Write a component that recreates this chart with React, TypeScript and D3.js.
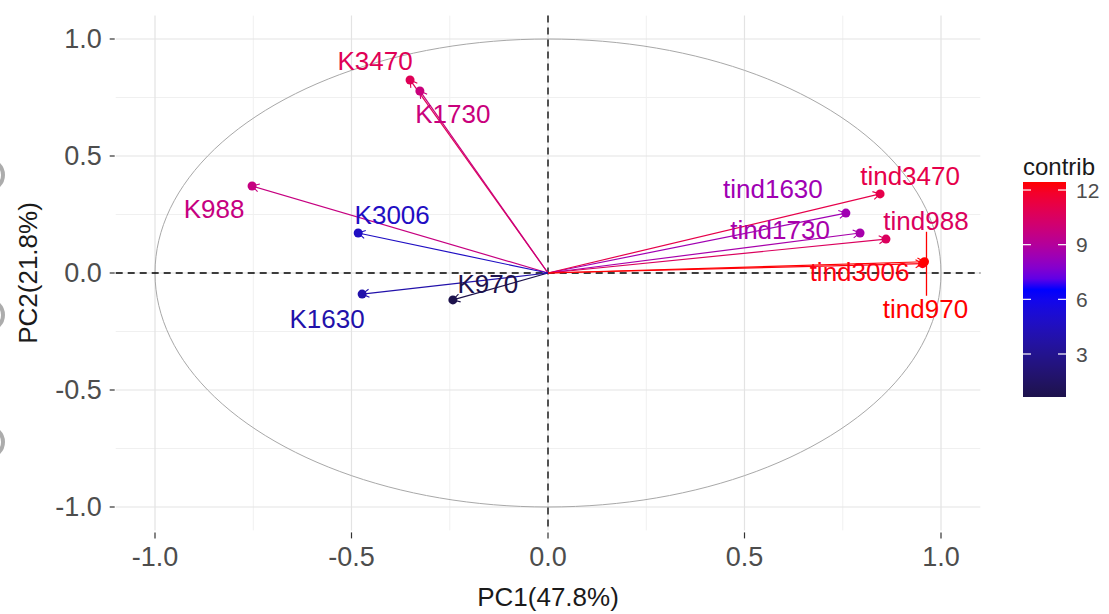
import React from "react";
import * as d3 from "d3";

const variables = ["K3470", "K1730", "K988", "K3006", "K970", "K1630", "tind1630", "tind3470", "tind1730", "tind988", "tind3006", "tind970"];
const pc1 = [-0.351, -0.326, -0.753, -0.483, -0.242, -0.473, 0.758, 0.845, 0.794, 0.86, 0.953, 0.958];
const pc2 = [0.825, 0.778, 0.372, 0.171, -0.115, -0.09, 0.256, 0.338, 0.171, 0.145, 0.04, 0.048];
const contrib = [10.8, 9.8, 9.7, 4.7, 0.64, 3.9, 8.4, 11.1, 8.6, 10.6, 12.3, 12.44];
// label offsets in pixels (repelled positions)
const labelDx = [-35, 33, -38, 34, 35, -35, -73, 30, -80, 40, -63, 1];
const labelDy = [-19, 23, 23, -18, -16, 25, -24, -18, -3, -18, 8, 47];

const xTicks = [-1.0, -0.5, 0.0, 0.5, 1.0];
const yTicks = [-1.0, -0.5, 0.0, 0.5, 1.0];
const minorTicks = [-0.75, -0.25, 0.25, 0.75];
const legendTicks = [3, 6, 9, 12];
const contribRange = [0.64, 12.44];

const W = 1109, H = 614;
const FONT = "'Liberation Sans', Arial, Helvetica, sans-serif";

export default function App() {
  const x = d3.scaleLinear().domain([-1.1, 1.1]).range([115.7, 980.3]);
  const y = d3.scaleLinear().domain([-1.1, 1.1]).range([530.4, 15.6]);
  const mid = (contribRange[0] + contribRange[1]) / 2;
  const color = d3
    .scaleLinear<string>()
    .domain([contribRange[0], mid, contribRange[1]])
    .range(["#1d124c", "#0000ff", "#ff0000"])
    .interpolate(d3.interpolateLab);

  const legTop = 182, legBot = 397, legX = 1023, legW = 43;
  const ly = d3.scaleLinear().domain(contribRange).range([legBot, legTop]);
  const stops = d3.range(0, 1.0001, 0.05);

  const circle = d3.range(0, 361, 2).map((a) => [Math.cos((a * Math.PI) / 180), Math.sin((a * Math.PI) / 180)]);
  const circlePath = d3.line().x((d) => x(d[0])).y((d) => y(d[1]))(circle as any);

  const arrowLen = 8;
  const [x0, x1] = x.range();
  const [yb, yt] = y.range();

  return (
    <svg width={W} height={H} style={{ position: "absolute", left: 0, top: 0, background: "#fff" }} fontFamily={FONT}>
      <defs>
        <linearGradient id="cg" x1="0" y1="1" x2="0" y2="0">
          {stops.map((s, i) => (
            <stop key={i} offset={s} stopColor={color(contribRange[0] + s * (contribRange[1] - contribRange[0]))} />
          ))}
        </linearGradient>
      </defs>
      {/* side artifacts */}
      {[175, 315, 442].map((cy, i) => (
        <circle key={i} cx={-12} cy={cy} r={15} fill="none" stroke="#909090" strokeWidth={4} opacity={0.75} />
      ))}
      {/* grid */}
      {minorTicks.map((t) => (
        <g key={"m" + t}>
          <line x1={x(t)} x2={x(t)} y1={yt} y2={yb} stroke="#f0f0f0" strokeWidth={1} />
          <line x1={x0} x2={x1} y1={y(t)} y2={y(t)} stroke="#f0f0f0" strokeWidth={1} />
        </g>
      ))}
      {xTicks.map((t) => (
        <line key={"gx" + t} x1={x(t)} x2={x(t)} y1={yt} y2={yb} stroke="#e3e3e3" strokeWidth={1.2} />
      ))}
      {yTicks.map((t) => (
        <line key={"gy" + t} x1={x0} x2={x1} y1={y(t)} y2={y(t)} stroke="#e3e3e3" strokeWidth={1.2} />
      ))}
      {/* circle */}
      <path d={circlePath || ""} fill="none" stroke="#a8a8a8" strokeWidth={1} />
      {/* dashed axes */}
      <line x1={x0} x2={x1} y1={y(0)} y2={y(0)} stroke="#000" strokeWidth={1.3} strokeDasharray="7,5" />
      <line x1={x(0)} x2={x(0)} y1={yt} y2={yb} stroke="#000" strokeWidth={1.3} strokeDasharray="7,5" />
      {/* arrows */}
      {variables.map((v, i) => {
        const px = x(pc1[i]), py = y(pc2[i]);
        const ox = x(0), oy = y(0);
        const ang = Math.atan2(py - oy, px - ox);
        const a1 = ang + Math.PI - Math.PI / 6, a2 = ang + Math.PI + Math.PI / 6;
        const c = color(contrib[i]);
        return (
          <g key={v}>
            <line x1={ox} y1={oy} x2={px} y2={py} stroke={c} strokeWidth={1.2} />
            <polyline
              points={`${px + arrowLen * Math.cos(a1)},${py + arrowLen * Math.sin(a1)} ${px},${py} ${px + arrowLen * Math.cos(a2)},${py + arrowLen * Math.sin(a2)}`}
              fill="none"
              stroke={c}
              strokeWidth={1.1}
            />
            <circle cx={px} cy={py} r={4.5} fill={c} />
          </g>
        );
      })}
      {/* repel segment for tind970 */}
      {(() => {
        const i = variables.indexOf("tind970");
        const px = x(pc1[i]), py = y(pc2[i]);
        return <line x1={px + 2} y1={py - 30} x2={px + 2} y2={py + labelDy[i] - 13} stroke={color(contrib[i])} strokeWidth={1.3} />;
      })()}
      {/* labels */}
      {variables.map((v, i) => (
        <text
          key={"t" + v}
          x={x(pc1[i]) + labelDx[i]}
          y={y(pc2[i]) + labelDy[i]}
          textAnchor="middle"
          dominantBaseline="central"
          fontSize={26}
          fill={color(contrib[i])}
        >
          {v}
        </text>
      ))}
      {/* axes ticks */}
      {yTicks.map((t) => (
        <g key={"yt" + t}>
          <line x1={x0 - 6} x2={x0 - 1} y1={y(t)} y2={y(t)} stroke="#333" strokeWidth={1.2} />
          <text x={x0 - 14} y={y(t)} textAnchor="end" dominantBaseline="central" fontSize={27} fill="#4d4d4d">
            {t.toFixed(1)}
          </text>
        </g>
      ))}
      {xTicks.map((t) => (
        <g key={"xt" + t}>
          <line x1={x(t)} x2={x(t)} y1={yb + 2} y2={yb + 8} stroke="#333" strokeWidth={1.2} />
          <text x={x(t)} y={yb + 27} textAnchor="middle" dominantBaseline="central" fontSize={27} fill="#4d4d4d">
            {t.toFixed(1)}
          </text>
        </g>
      ))}
      <text x={(x0 + x1) / 2} y={597} textAnchor="middle" dominantBaseline="central" fontSize={26} fill="#1a1a1a">
        PC1(47.8%)
      </text>
      <text
        transform={`translate(28,${(yt + yb) / 2}) rotate(-90)`}
        textAnchor="middle"
        dominantBaseline="central"
        fontSize={26}
        fill="#1a1a1a"
      >
        PC2(21.8%)
      </text>
      {/* legend */}
      <text x={legX} y={166} dominantBaseline="central" fontSize={24} fill="#1a1a1a">
        contrib
      </text>
      <rect x={legX} y={legTop} width={legW} height={legBot - legTop} fill="url(#cg)" />
      {legendTicks.map((t) => (
        <g key={"lt" + t}>
          <line x1={legX} x2={legX + 8} y1={ly(t)} y2={ly(t)} stroke="#fff" strokeWidth={1.2} />
          <line x1={legX + legW - 8} x2={legX + legW} y1={ly(t)} y2={ly(t)} stroke="#fff" strokeWidth={1.2} />
          <text x={legX + legW + 10} y={ly(t)} dominantBaseline="central" fontSize={21} fill="#4d4d4d">
            {t}
          </text>
        </g>
      ))}
    </svg>
  );
}
